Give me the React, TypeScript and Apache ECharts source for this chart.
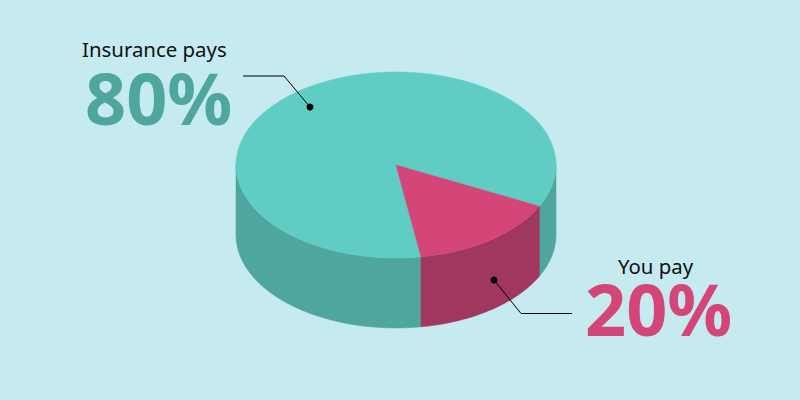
import React, { useEffect, useRef } from "react";
import * as echarts from "echarts";

const sliceNames = ["Insurance pays", "You pay"];
const sliceLabels = ["80%", "20%"];
// Shares of the ellipse as they are actually drawn in the picture (read from its slice edges).
const drawnShares = [84.8, 15.2];
const topColors = ["#5fcdc3", "#d54678"];
const sideColors = ["#4fa69e", "#a0375f"];
const startAngleDeg = 81;

const CX = 396, CY = 165, RX = 160, RY = 93, DEPTH = 70;

const rad = (d: number) => (d * Math.PI) / 180;
const pt = (deg: number, dy = 0): [number, number] => [
  CX + RX * Math.cos(rad(deg)),
  CY + RY * Math.sin(rad(deg)) + dy,
];

function arc(a0: number, a1: number, dy = 0) {
  const out: [number, number][] = [];
  const n = Math.max(2, Math.ceil(Math.abs(a1 - a0) / 1));
  for (let i = 0; i <= n; i++) out.push(pt(a0 + ((a1 - a0) * i) / n, dy));
  return out;
}

export default function App() {
  const ref = useRef<HTMLDivElement>(null);
  useEffect(() => {
    document.body.style.margin = "0";
    const chart = echarts.init(ref.current!, null, { renderer: "svg" });
    const total = drawnShares.reduce((a, b) => a + b, 0);
    const starts: number[] = [];
    let acc = startAngleDeg;
    drawnShares.forEach((v) => {
      starts.push(acc);
      acc += (v / total) * 360;
    });
    const font = "'Noto Sans', sans-serif";
    const line = (points: number[][]) => ({
      type: "polyline",
      shape: { points },
      style: { stroke: "#000", lineWidth: 1, fill: "none" },
      silent: true,
      z: 10,
    });
    const dot = (x: number, y: number) => ({
      type: "circle",
      shape: { cx: x, cy: y, r: 3.5 },
      style: { fill: "#000" },
      silent: true,
      z: 10,
    });
    const text = (x: number, y: number, t: string, size: number, fill: string, weight: any) => ({
      type: "text",
      x,
      y,
      style: { text: t, fontSize: size, fontFamily: font, fontWeight: weight, fill, textAlign: "left", textVerticalAlign: "top" },
      silent: true,
      z: 10,
    });
    chart.setOption({
      animation: false,
      backgroundColor: "#c5eaf0",
      series: [
        {
          type: "custom",
          coordinateSystem: "none",
          silent: true,
          data: drawnShares.map((v, i) => [v, i]),
          renderItem: (_p: any, api: any) => {
            const i = api.value(1);
            const a0 = starts[i];
            const a1 = a0 + (api.value(0) / total) * 360;
            const stroke = (c: string) => ({ fill: c, stroke: c, lineWidth: 0.5 });
            const children: any[] = [];
            // Side wall: only the front half of the ellipse (0..180 degrees, also +360) is visible.
            [[0, 180], [360, 540]].forEach(([lo, hi]) => {
              const s = Math.max(a0, lo), e = Math.min(a1, hi);
              if (e > s) {
                children.push({
                  type: "polygon",
                  shape: { points: [...arc(s, e), ...arc(e, s, DEPTH)] },
                  style: stroke(sideColors[i]),
                });
              }
            });
            children.push({
              type: "polygon",
              shape: { points: [[CX, CY], ...arc(a0, a1)] },
              style: stroke(topColors[i]),
              z2: 5,
            });
            return { type: "group", children };
          },
        },
      ],
      graphic: [
        line([[243, 76], [284, 76], [310, 107]]),
        dot(310, 107),
        line([[494, 280], [521, 313.5], [572, 313.5]]),
        dot(494, 280),
        text(82, 39, sliceNames[0], 20.4, "#111", 400),
        text(85, 61, sliceLabels[0], 72, sideColors[0], 700),
        text(618, 256, sliceNames[1], 20.4, "#111", 400),
        text(585, 272, sliceLabels[1], 72, topColors[1], 700),
      ],
    });
    return () => chart.dispose();
  }, []);
  return <div ref={ref} style={{ width: 800, height: 400 }} />;
}
